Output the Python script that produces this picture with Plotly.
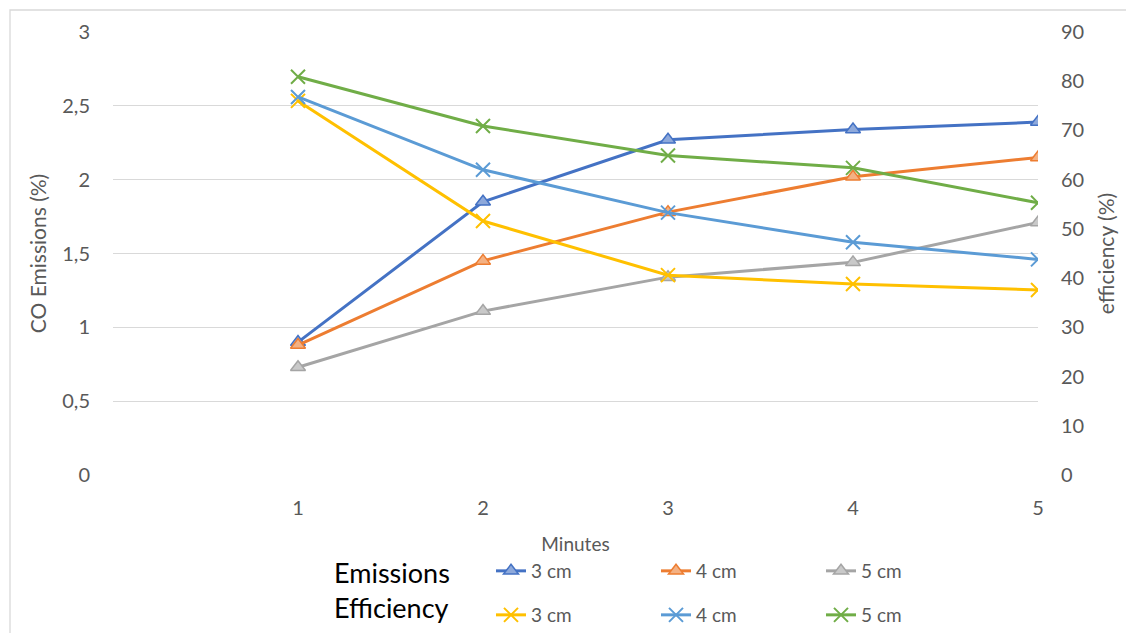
import plotly.graph_objects as go

minutes = [1, 2, 3, 4, 5]
series_names = ["3 cm", "4 cm", "5 cm"]

emissions_3cm = [0.90, 1.85, 2.27, 2.34, 2.39]
emissions_4cm = [0.88, 1.45, 1.78, 2.02, 2.15]
emissions_5cm = [0.73, 1.11, 1.34, 1.44, 1.71]

efficiency_3cm = [76.0, 51.6, 40.6, 38.8, 37.6]
efficiency_4cm = [76.8, 62.0, 53.3, 47.3, 43.8]
efficiency_5cm = [80.9, 70.9, 64.9, 62.4, 55.3]

left_ticks = [0, 0.5, 1, 1.5, 2, 2.5, 3]
right_ticks = [0, 10, 20, 30, 40, 50, 60, 70, 80, 90]

FONT = "Lato, 'Open Sans', sans-serif"
GRAY = "#595959"

em_colors = ["#4472C4", "#ED7D31", "#A5A5A5"]
em_fills = ["#8EA9DB", "#F4B183", "#C9C9C9"]
ef_colors = ["#FFC000", "#5B9BD5", "#70AD47"]

fig = go.Figure()

for name, vals, c, f in zip(series_names, [emissions_3cm, emissions_4cm, emissions_5cm], em_colors, em_fills):
    fig.add_trace(go.Scatter(
        x=minutes, y=vals, name=name, mode="lines+markers",
        line=dict(color=c, width=3),
        marker=dict(symbol="triangle-up", size=13, color=f, line=dict(color=c, width=1.5)),
        legend="legend", yaxis="y",
    ))

for name, vals, c in zip(series_names, [efficiency_3cm, efficiency_4cm, efficiency_5cm], ef_colors):
    fig.add_trace(go.Scatter(
        x=minutes, y=vals, name=name, mode="lines+markers",
        line=dict(color=c, width=3),
        marker=dict(symbol="x-thin-open", size=14, color=c, line=dict(color=c, width=2)),
        legend="legend2", yaxis="y2",
    ))

OFF = 8  # page body margin
L, R, T, B = 113 - OFF, 104, 32 - OFF, 166
W, H = 1134, 633
pw = W - L - R
ph = H - T - B

def px2x(px):
    return (px - OFF - L) / pw

def py2y(py):
    return (H - B - (py - OFF)) / ph

fig.update_layout(
    width=W, height=H,
    margin=dict(l=L, r=R, t=T, b=B, autoexpand=False),
    paper_bgcolor="white", plot_bgcolor="white",
    separators=", ",
    font=dict(family=FONT, color=GRAY, size=19),
    xaxis=dict(
        range=[0, 5], tickvals=minutes, ticktext=[str(m) for m in minutes],
        showgrid=False, zeroline=False, showline=False, automargin=False,
        ticks="", ticklabelstandoff=19,
        tickfont=dict(size=20, color=GRAY),
        title=dict(text="Minutes", font=dict(size=19, color=GRAY), standoff=19),
    ),
    yaxis=dict(
        range=[0, 3], tickvals=left_ticks, automargin=False,
        showgrid=True, gridcolor="#D9D9D9", gridwidth=1.3,
        zeroline=False, showline=False, ticks="", ticklabelstandoff=22,
        tickfont=dict(size=20, color=GRAY),
        title=dict(text="CO Emissions (%)", font=dict(size=21, color=GRAY), standoff=9),
    ),
    yaxis2=dict(
        range=[0, 90], tickvals=right_ticks, overlaying="y", side="right", automargin=False,
        showgrid=False, zeroline=False, showline=False, ticks="", ticklabelstandoff=22,
        tickfont=dict(size=20, color=GRAY),
        title=dict(text="efficiency (%)", font=dict(size=21, color=GRAY), standoff=16),
    ),
    legend=dict(
        orientation="h", x=px2x(491), xanchor="left", y=py2y(571), yanchor="middle",
        entrywidth=120, entrywidthmode="pixels", font=dict(size=19, color=GRAY),
        bgcolor="rgba(0,0,0,0)", tracegroupgap=0,
    ),
    legend2=dict(
        orientation="h", x=px2x(491), xanchor="left", y=py2y(615), yanchor="middle",
        entrywidth=120, entrywidthmode="pixels", font=dict(size=19, color=GRAY),
        bgcolor="rgba(0,0,0,0)", tracegroupgap=0,
    ),
    showlegend=True,
)

fig.add_annotation(text="Emissions", xref="paper", yref="paper", x=px2x(332), y=py2y(572),
                   xanchor="left", yanchor="middle", showarrow=False,
                   font=dict(size=27, color="black", family=FONT))
fig.add_annotation(text="Efficiency", xref="paper", yref="paper", x=px2x(332), y=py2y(607),
                   xanchor="left", yanchor="middle", showarrow=False,
                   font=dict(size=27, color="black", family=FONT))

fig.add_shape(type="rect", xref="paper", yref="paper",
              x0=px2x(10), x1=px2x(1150), y0=py2y(10), y1=py2y(650),
              line=dict(color="#D9D9D9", width=1.3), fillcolor="rgba(0,0,0,0)", layer="below")

fig.write_html("out.html")
